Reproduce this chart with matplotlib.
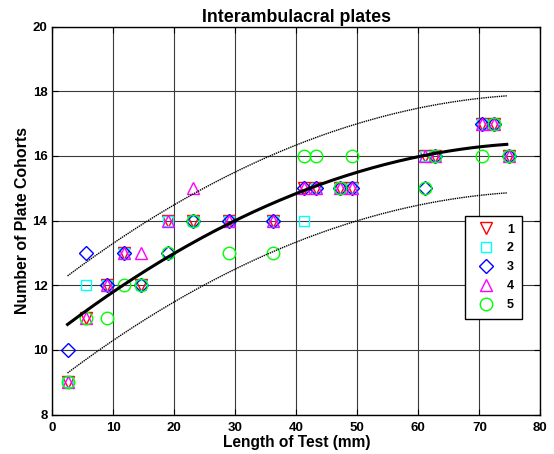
import numpy as np
import matplotlib
matplotlib.use("Agg")
import matplotlib.pyplot as plt

plt.rcParams['font.family'] = ['Liberation Sans', 'DejaVu Sans']
plt.rcParams['font.weight'] = 'bold'

# Test length of each specimen (mm)
length_mm = [2.5, 5.6, 9.0, 11.7, 14.5, 19.0, 23.0, 29.0, 36.1, 41.2,
             43.2, 47.2, 49.2, 61.1, 62.7, 70.4, 72.4, 74.8]

# Plate cohort counts for interambulacra 1-5
cohorts_1 = [9, 11, 12, 13, 12, 14, 14, 14, 14, 15, 15, 15, 15, 16, 16, 17, 17, 16]
cohorts_2 = [9, 12, 12, 13, 12, 14, 14, 14, 14, 14, 15, 15, 15, 16, 16, 17, 17, 16]
cohorts_3 = [10, 13, 12, 13, 12, 13, 14, 14, 14, 15, 15, 15, 15, 15, 16, 17, 17, 16]
cohorts_4 = [9, 11, 12, 13, 13, 14, 15, 14, 14, 15, 15, 15, 15, 16, 16, 17, 17, 16]
cohorts_5 = [9, 11, 11, 12, 12, 13, 14, 13, 13, 16, 16, 15, 16, 15, 16, 16, 17, 16]

series_labels = ['1', '2', '3', '4', '5']

# Quadratic growth fit (highest power first) and half-width of the band
fit_coeffs = [-0.000888, 0.1457, 10.431]
band_half_width = 1.5

x_ticks = [0, 10, 20, 30, 40, 50, 60, 70, 80]
y_ticks = [8, 10, 12, 14, 16, 18, 20]

fig = plt.figure(figsize=(5.54, 4.54), dpi=100)
ax = fig.add_axes([0.0944, 0.0866, 0.8809, 0.855])

ax.grid(True, color='#3a3a3a', linewidth=0.8)
ax.set_axisbelow(True)

styles = [
    dict(marker='v', color='#ff0000', ms=9),
    dict(marker='s', color='#00ffff', ms=7),
    dict(marker='D', color='#0000ff', ms=7.5),
    dict(marker='^', color='#ff00ff', ms=9),
    dict(marker='o', color='#00ff00', ms=9),
]
all_series = [cohorts_1, cohorts_2, cohorts_3, cohorts_4, cohorts_5]
for vals, lab, st in zip(all_series, series_labels, styles):
    ax.plot(length_mm, vals, linestyle='none', marker=st['marker'],
            markersize=st['ms'], markerfacecolor='none',
            markeredgecolor=st['color'], markeredgewidth=1.0, label=lab)

xs = np.linspace(min(length_mm), max(length_mm) - 0.3, 200)
ys = np.polyval(fit_coeffs, xs)
ax.plot(xs, ys, color='black', linewidth=2.2)
ax.plot(xs, ys + band_half_width, color='black', linewidth=1.0, linestyle=(0, (1, 0.6)))
ax.plot(xs, ys - band_half_width, color='black', linewidth=1.0, linestyle=(0, (1, 0.6)))

ax.set_xlim(0, 80)
ax.set_ylim(8, 20)
ax.set_xticks(x_ticks)
ax.set_yticks(y_ticks)
ax.tick_params(direction='in', length=4, labelsize=9.5, top=True, right=True, width=0.8)
ax.tick_params(axis='x', pad=5)
for lbl in ax.get_xticklabels() + ax.get_yticklabels():
    lbl.set_fontweight('bold')
for sp in ax.spines.values():
    sp.set_linewidth(1.0)

ax.set_title('Interambulacral plates', fontsize=12.8, fontweight='bold', pad=3)
ax.set_xlabel('Length of Test (mm)', fontsize=11.2, fontweight='bold', labelpad=1)
ax.set_ylabel('Number of Plate Cohorts', fontsize=11.4, fontweight='bold', labelpad=2)

leg = ax.legend(loc='upper left', bbox_to_anchor=(0.8457, 0.5118), borderaxespad=0,
                frameon=True, fancybox=False, edgecolor='black', framealpha=1,
                markerfirst=True, handlelength=2.2, handletextpad=0.55,
                labelspacing=0.55, borderpad=0.6, prop={'weight': 'bold', 'size': 9})
leg.get_frame().set_linewidth(1.0)

fig.savefig('out.png', dpi=100, facecolor='white')
